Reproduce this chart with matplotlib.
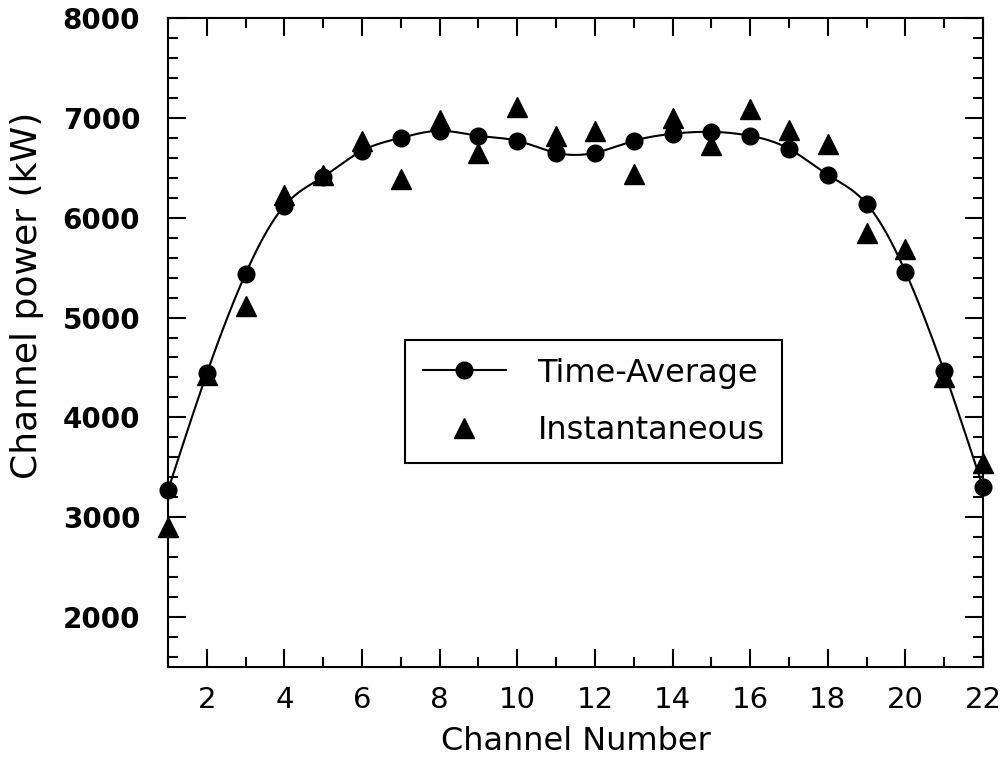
import numpy as np
import matplotlib
matplotlib.use("Agg")
import matplotlib.pyplot as plt
from matplotlib.ticker import MultipleLocator, FixedLocator

channels = list(range(1, 23))
time_average = [3270, 4440, 5440, 6120, 6410, 6670, 6800, 6870, 6820, 6770, 6650,
                6650, 6770, 6840, 6860, 6820, 6690, 6430, 6140, 5460, 4460, 3300]
instantaneous = [2900, 4420, 5120, 6230, 6430, 6770, 6390, 6980, 6650, 7110, 6820,
                 6870, 6440, 7000, 6730, 7090, 6880, 6740, 5850, 5690, 4400, 3540]
x_ticks = [2, 4, 6, 8, 10, 12, 14, 16, 18, 20, 22]
y_ticks = [2000, 3000, 4000, 5000, 6000, 7000, 8000]


def natural_spline(x, y, xs):
    x = np.asarray(x, float); y = np.asarray(y, float)
    n = len(x)
    h = np.diff(x)
    A = np.zeros((n, n)); b = np.zeros(n)
    A[0, 0] = 1; A[-1, -1] = 1
    for i in range(1, n - 1):
        A[i, i - 1] = h[i - 1]
        A[i, i] = 2 * (h[i - 1] + h[i])
        A[i, i + 1] = h[i]
        b[i] = 3 * ((y[i + 1] - y[i]) / h[i] - (y[i] - y[i - 1]) / h[i - 1])
    c = np.linalg.solve(A, b)
    out = np.empty_like(xs)
    for k, xv in enumerate(xs):
        i = min(max(np.searchsorted(x, xv) - 1, 0), n - 2)
        dx = xv - x[i]
        bi = (y[i + 1] - y[i]) / h[i] - h[i] * (2 * c[i] + c[i + 1]) / 3
        di = (c[i + 1] - c[i]) / (3 * h[i])
        out[k] = y[i] + bi * dx + c[i] * dx ** 2 + di * dx ** 3
    return out


fig = plt.figure(figsize=(10.03, 7.67), dpi=100)
ax = fig.add_axes([168 / 1003, 1 - 667 / 767, (983 - 168) / 1003, (667 - 18) / 767])

xs = np.linspace(channels[0], channels[-1], 600)
ax.plot(xs, natural_spline(channels, time_average, xs), color="black", lw=1.5, zorder=2)
ax.plot(channels, time_average, linestyle="none", marker="o", ms=12, color="black",
        zorder=3, clip_on=False)
ax.plot(channels, instantaneous, linestyle="none", marker="^", ms=14, color="black",
        zorder=3, clip_on=False)

# legend proxies
h1, = ax.plot([], [], color="black", lw=1.5, marker="o", ms=12, label="Time-Average")
h2, = ax.plot([], [], linestyle="none", marker="^", ms=14, color="black", label="Instantaneous")
leg = ax.legend(handles=[h1, h2], loc="upper left", bbox_to_anchor=(0.2908, 0.5039),
                borderaxespad=0, frameon=True, fancybox=False, framealpha=1,
                edgecolor="black", prop={"family": "DejaVu Sans", "size": 23},
                handlelength=2.6, handletextpad=1.0, labelspacing=0.82, borderpad=0.55)
leg.get_frame().set_linewidth(1.5)

ax.set_xlim(1, 22)
ax.set_ylim(1500, 8000)
ax.xaxis.set_major_locator(FixedLocator(x_ticks))
ax.xaxis.set_minor_locator(MultipleLocator(1))
ax.yaxis.set_major_locator(FixedLocator(y_ticks))
ax.yaxis.set_minor_locator(MultipleLocator(200))
ax.set_xticklabels([str(t) for t in x_ticks])
ax.set_yticklabels([str(t) for t in y_ticks])

ax.tick_params(which="both", direction="in", top=True, right=True, width=1.5, color="black")
ax.tick_params(which="major", length=13)
ax.tick_params(which="minor", length=7)
ax.tick_params(axis="y", which="major", pad=20)
ax.tick_params(axis="x", which="major", pad=14)
for lab in ax.get_yticklabels():
    lab.set_family("DejaVu Sans"); lab.set_fontweight("bold"); lab.set_fontsize(20)
for lab in ax.get_xticklabels():
    lab.set_family("DejaVu Sans"); lab.set_fontsize(21)
for sp in ax.spines.values():
    sp.set_linewidth(1.5)

ax.set_xlabel("Channel Number", family="DejaVu Sans", fontsize=23, labelpad=8)
ax.set_ylabel("Channel power (kW)", family="DejaVu Sans", fontsize=26)
ax.yaxis.set_label_coords(-0.152, 0.573)

fig.savefig("out.png", dpi=100)
